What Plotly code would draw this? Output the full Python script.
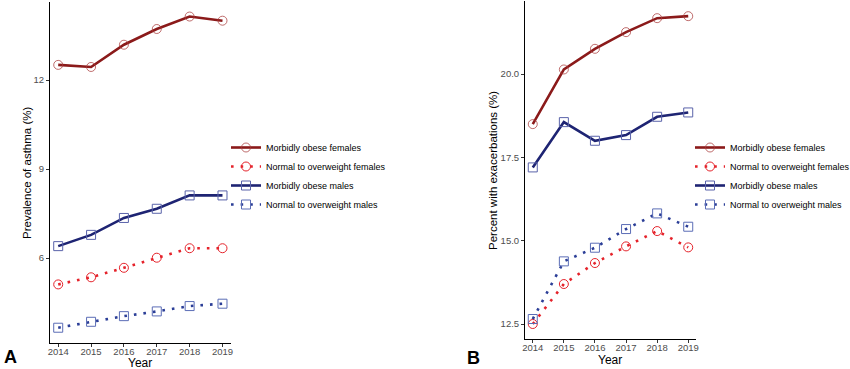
import plotly.graph_objects as go

years = [2014, 2015, 2016, 2017, 2018, 2019]

# Panel A: prevalence of asthma (%)
asthma_mo_f = [12.51, 12.44, 13.19, 13.72, 14.14, 14.00]
asthma_no_f = [5.11, 5.35, 5.67, 6.01, 6.33, 6.33]
asthma_mo_m = [6.40, 6.78, 7.35, 7.66, 8.11, 8.11]
asthma_no_m = [3.65, 3.85, 4.04, 4.20, 4.38, 4.46]

# Panel B: percent with exacerbations (%)
exac_mo_f = [18.50, 20.14, 20.76, 21.26, 21.68, 21.74]
exac_no_f = [12.50, 13.70, 14.33, 14.83, 15.29, 14.80]
exac_mo_m = [17.20, 18.56, 18.00, 18.17, 18.72, 18.85]
exac_no_m = [12.65, 14.38, 14.79, 15.35, 15.82, 15.42]

series_names = ["Morbidly obese females", "Normal to overweight females",
                "Morbidly obese males", "Normal to overweight males"]
a_ticks = [6, 9, 12]
b_ticks = [12.5, 15.0, 17.5, 20.0]

styles = [
    dict(line=dict(color="#8B1A1A", width=2.6),
         marker=dict(symbol="circle-open", size=9, color="rgba(170,60,60,0.75)", line=dict(width=1))),
    dict(line=dict(color="#E5232B", width=2.6, dash="2.6px,7px"),
         marker=dict(symbol="circle-open", size=9, color="#E5232B", line=dict(width=1))),
    dict(line=dict(color="#1E2473", width=2.6),
         marker=dict(symbol="square-open", size=9, color="#5A63AA", line=dict(width=1))),
    dict(line=dict(color="#2B3E97", width=2.6, dash="2.6px,7px"),
         marker=dict(symbol="square-open", size=9, color="#5B6DB6", line=dict(width=1))),
]

fig = go.Figure()

for name, vals, st in zip(series_names, [asthma_mo_f, asthma_no_f, asthma_mo_m, asthma_no_m], styles):
    fig.add_trace(go.Scatter(x=years, y=vals, mode="lines+markers", name=name,
                             line=st["line"], marker=st["marker"],
                             xaxis="x", yaxis="y", legend="legend"))
for name, vals, st in zip(series_names, [exac_mo_f, exac_no_f, exac_mo_m, exac_no_m], styles):
    fig.add_trace(go.Scatter(x=years, y=vals, mode="lines+markers", name=name,
                             line=st["line"], marker=st["marker"],
                             xaxis="x2", yaxis="y2", legend="legend2"))

W, H = 850, 369
font_fam = "Liberation Sans, Arial, sans-serif"

def xax(d0, d1, anchor):
    return dict(domain=[d0 / W, d1 / W], range=[2013.75, 2019.25], anchor=anchor,
                tickvals=years, ticktext=[str(y) for y in years],
                showline=True, linecolor="black", linewidth=1,
                ticks="outside", ticklen=3, tickcolor="#333333",
                tickfont=dict(size=9.5, color="#4D4D4D", family=font_fam),
                ticklabelstandoff=-3,
                showgrid=False, zeroline=False, automargin=False)

def yax(top, bot, rng, ticks, fmt, anchor):
    return dict(domain=[1 - bot / H, 1 - top / H], range=rng, anchor=anchor,
                tickvals=ticks, tickformat=fmt,
                showline=True, linecolor="black", linewidth=1,
                ticks="outside", ticklen=3, tickcolor="#333333",
                tickfont=dict(size=9.5, color="#4D4D4D", family=font_fam),
                showgrid=False, zeroline=False, automargin=False)

legend_common = dict(font=dict(size=9, color="black", family=font_fam),
                     bgcolor="rgba(0,0,0,0)", itemwidth=30, yanchor="middle", xanchor="left",
                     tracegroupgap=0)

def ann(text, x, y, size, angle=0, bold=False):
    return dict(text=f"<b>{text}</b>" if bold else text, x=x / W, y=1 - y / H,
                xref="paper", yref="paper", showarrow=False, textangle=angle,
                xanchor="center", yanchor="middle",
                font=dict(size=size, color="black", family=font_fam))

fig.update_layout(
    width=W, height=H,
    margin=dict(l=0, r=0, t=0, b=0, autoexpand=False),
    paper_bgcolor="white", plot_bgcolor="white",
    font=dict(family=font_fam),
    xaxis=xax(50, 230.7, "y"),
    yaxis=yax(2, 343, [3.135, 14.63], a_ticks, "d", "x"),
    xaxis2=xax(525, 696, "y2"),
    yaxis2=yax(0.5, 339, [12.05, 22.21], b_ticks, ".1f", "x2"),
    legend=dict(x=226 / W, y=1 - 176 / H, **legend_common),
    legend2=dict(x=690 / W, y=1 - 176 / H, **legend_common),
    showlegend=True,
    annotations=[
        ann("Year", 140, 362.5, 12),
        ann("Year", 610, 360, 12),
        ann("Prevalence of asthma (%)", 27, 173, 11.5, angle=-90),
        ann("Percent with exacerbations (%)", 493, 170, 11.5, angle=-90),
        ann("A", 10, 357, 18, bold=True),
        ann("B", 473, 358, 18, bold=True),
    ],
)

fig.write_html("out.html", config={"displayModeBar": False},
               post_script="document.body.style.margin='0';document.body.style.overflow='hidden';")
